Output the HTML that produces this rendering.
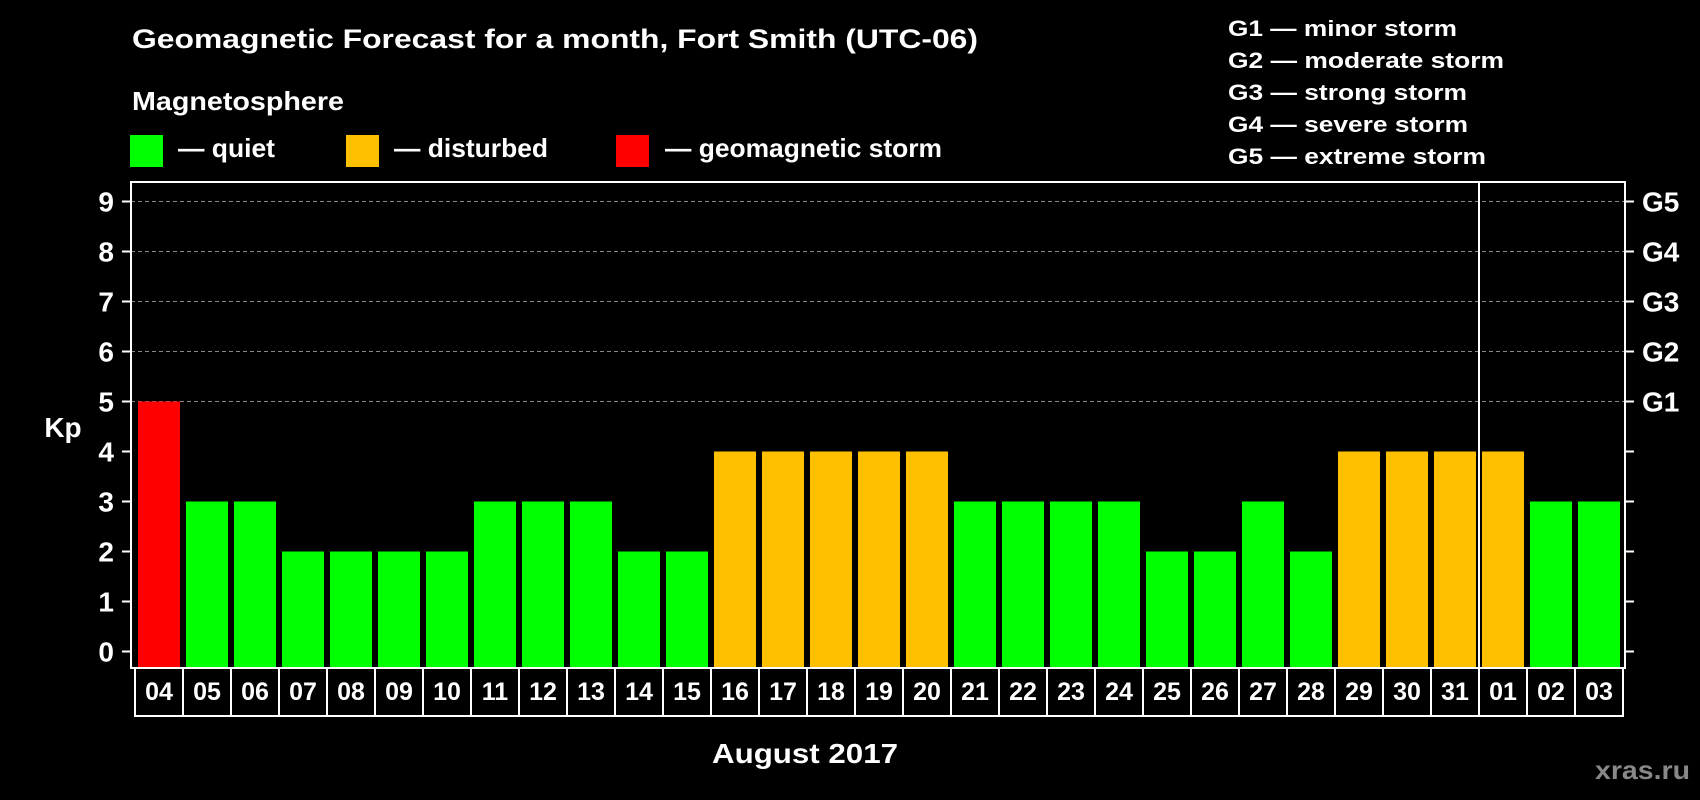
<!DOCTYPE html>
<html><head><meta charset="utf-8"><style>
html,body{margin:0;padding:0;background:#000;}
svg{display:block;font-family:"Liberation Sans",sans-serif;font-weight:bold;}
</style></head><body>
<svg id="chart" width="1700" height="800" viewBox="0 0 1700 800">
<rect x="0" y="0" width="1700" height="800" fill="#000"/>
<text x="132" y="48" font-size="27" fill="#fff" textLength="846" lengthAdjust="spacingAndGlyphs">Geomagnetic Forecast for a month, Fort Smith (UTC-06)</text>
<text x="132" y="110" font-size="26" fill="#fff" textLength="212" lengthAdjust="spacingAndGlyphs">Magnetosphere</text>
<g><rect x="130" y="135" width="33" height="32" fill="#00ff00"/><text x="178" y="157" font-size="26" fill="#fff" textLength="97" lengthAdjust="spacingAndGlyphs">— quiet</text></g>
<g><rect x="346" y="135" width="33" height="32" fill="#ffc000"/><text x="394" y="157" font-size="26" fill="#fff" textLength="154" lengthAdjust="spacingAndGlyphs">— disturbed</text></g>
<g><rect x="616" y="135" width="33" height="32" fill="#ff0000"/><text x="665" y="157" font-size="26" fill="#fff" textLength="277" lengthAdjust="spacingAndGlyphs">— geomagnetic storm</text></g>
<g font-size="22" fill="#fff">
<text x="1228" y="36" textLength="229" lengthAdjust="spacingAndGlyphs">G1 — minor storm</text>
<text x="1228" y="68" textLength="276" lengthAdjust="spacingAndGlyphs">G2 — moderate storm</text>
<text x="1228" y="100" textLength="239" lengthAdjust="spacingAndGlyphs">G3 — strong storm</text>
<text x="1228" y="132" textLength="240" lengthAdjust="spacingAndGlyphs">G4 — severe storm</text>
<text x="1228" y="164" textLength="258" lengthAdjust="spacingAndGlyphs">G5 — extreme storm</text>
</g>
<g id="grid"></g>
<g id="bars"></g>
<g id="axes"></g>
<text x="63" y="437" font-size="28" fill="#fff" text-anchor="middle">Kp</text>
<text x="805" y="763" font-size="28" fill="#fff" text-anchor="middle" textLength="186" lengthAdjust="spacingAndGlyphs">August 2017</text>
<text x="1690" y="779" font-size="26" fill="#888" text-anchor="end" textLength="95" lengthAdjust="spacingAndGlyphs">xras.ru</text>
</svg>
<script>
const days = ["04","05","06","07","08","09","10","11","12","13","14","15","16","17","18","19","20","21","22","23","24","25","26","27","28","29","30","31","01","02","03"];
const kpValues = [5,3,3,2,2,2,2,3,3,3,2,2,4,4,4,4,4,3,3,3,3,2,2,3,2,4,4,4,4,3,3];
const yTicks = [0,1,2,3,4,5,6,7,8,9];
const gLabels = ["G1","G2","G3","G4","G5"];
const gLevels = [5,6,7,8,9];
const monthBreakIndex = 28;

const NS = "http://www.w3.org/2000/svg";
const plotL = 131, plotR = 1625, plotT = 182, plotB = 668;
const cellL = 135, cellW = 48, cellB = 716;
function yScale(v){ return 651.5 - v * 50; }
function xCell(i){ return cellL + i * cellW; }
function mk(tag, attrs, parent){
  const e = document.createElementNS(NS, tag);
  for (const k in attrs) e.setAttribute(k, attrs[k]);
  parent.appendChild(e);
  return e;
}
const grid = document.getElementById('grid');
const bars = document.getElementById('bars');
const axes = document.getElementById('axes');

gLevels.forEach(v => {
  const l = mk('line', {x1: plotL, x2: plotR, y1: yScale(v), y2: yScale(v), stroke: '#888', 'stroke-width': 1, 'stroke-dasharray': '4,3'}, grid);
  
  
});

kpValues.forEach((v, i) => {
  const color = v >= 5 ? '#ff0000' : (v >= 4 ? '#ffc000' : '#00ff00');
  const r = mk('rect', {x: xCell(i) + 3, y: yScale(v), width: 42, height: plotB - yScale(v), fill: color}, bars);
  
  
});

mk('rect', {x: plotL, y: plotT, width: plotR - plotL, height: plotB - plotT, fill: 'none', stroke: '#fff', 'stroke-width': 2}, axes);

yTicks.forEach(v => {
  const y = yScale(v);
  mk('line', {x1: 122, x2: plotL, y1: y, y2: y, stroke: '#fff', 'stroke-width': 2}, axes);
  mk('line', {x1: plotR, x2: 1634, y1: y, y2: y, stroke: '#fff', 'stroke-width': 2}, axes);
  const t = mk('text', {x: 114, y: y + 10, 'font-size': 28, fill: '#fff', 'text-anchor': 'end'}, axes);
  t.textContent = v;
  
  
});

gLevels.forEach((v, i) => {
  const t = mk('text', {x: 1642, y: yScale(v) + 10, 'font-size': 28, fill: '#fff'}, axes);
  t.textContent = gLabels[i];
  
  
});

mk('rect', {x: cellL, y: plotB, width: days.length * cellW, height: cellB - plotB, fill: 'none', stroke: '#fff', 'stroke-width': 2}, axes);
days.forEach((d, i) => {
  if (i > 0) mk('line', {x1: xCell(i), x2: xCell(i), y1: plotB, y2: cellB, stroke: '#fff', 'stroke-width': 2}, axes);
  const t = mk('text', {x: xCell(i) + cellW/2, y: 700, 'font-size': 25, fill: '#fff', 'text-anchor': 'middle'}, axes);
  t.textContent = d;
  
  
});
const sep = mk('line', {x1: xCell(monthBreakIndex), x2: xCell(monthBreakIndex), y1: plotT, y2: cellB, stroke: '#fff', 'stroke-width': 2}, axes);


</script>
</body></html>
